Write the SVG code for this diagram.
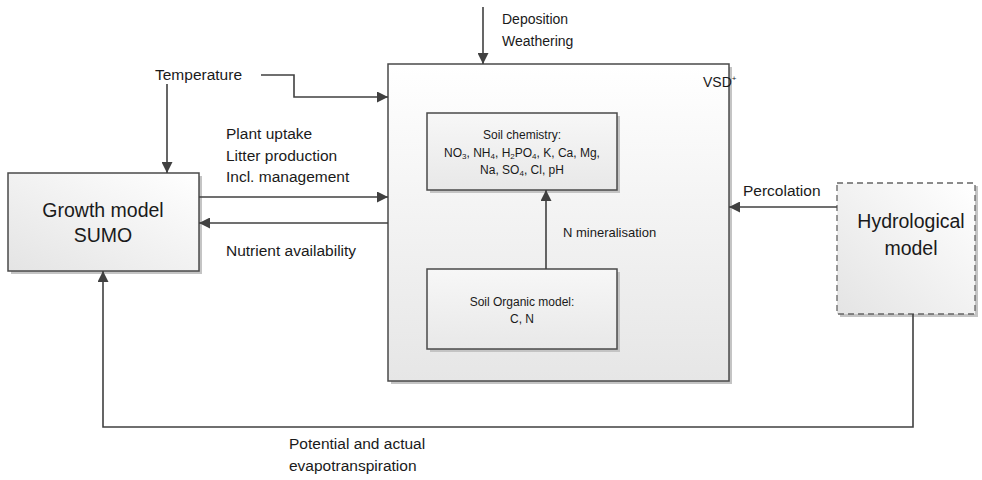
<svg xmlns="http://www.w3.org/2000/svg" width="982" height="480" viewBox="0 0 982 480">
<defs>
<linearGradient id="gBox" x1="0" y1="0" x2="0" y2="1">
<stop offset="0" stop-color="#ffffff"/>
<stop offset="1" stop-color="#e6e6e6"/>
</linearGradient>
<linearGradient id="gSumo" x1="1" y1="0" x2="0" y2="1">
<stop offset="0" stop-color="#ffffff"/>
<stop offset="1" stop-color="#e4e4e4"/>
</linearGradient>
<linearGradient id="gInner" x1="0" y1="0" x2="0" y2="1">
<stop offset="0" stop-color="#f7f7f7"/>
<stop offset="1" stop-color="#e8e8e8"/>
</linearGradient>
<marker id="arr" viewBox="0 0 10 10" refX="10" refY="5" markerWidth="11" markerHeight="11" markerUnits="userSpaceOnUse" orient="auto">
<path d="M0,0 L10,5 L0,10 Z" fill="#404040"/>
</marker>
</defs>
<style>
.box{stroke:#4a4a4a;stroke-width:1.5}
.shadow{fill:#c4c4c4}
.conn{fill:none;stroke:#404040;stroke-width:1.6}
text{font-family:"Liberation Sans",Arial,sans-serif;fill:#1a1a1a}
.lbl{font-size:15.5px}
.small{font-size:12px}
.big{font-size:19.5px}
</style>
<rect width="982" height="480" fill="#ffffff"/>

<g id="vsd">
<rect class="shadow" x="391" y="67" width="341" height="317"/>
<rect class="box" x="388" y="64" width="341" height="317" fill="url(#gBox)"/>
<text x="703" y="87" font-size="14">VSD<tspan font-size="8" dy="-6">+</tspan></text>
</g>

<g id="soil-chemistry">
<rect class="shadow" x="430" y="116" width="190" height="77"/>
<rect class="box" x="427" y="113" width="190" height="77" fill="url(#gInner)"/>
<text class="small" text-anchor="middle" x="522" y="139">Soil chemistry:</text>
<text class="small" text-anchor="middle" x="522" y="157">NO<tspan font-size="8" dy="2">3</tspan><tspan dy="-2">, NH</tspan><tspan font-size="8" dy="2">4</tspan><tspan dy="-2">, H</tspan><tspan font-size="8" dy="2">2</tspan><tspan dy="-2">PO</tspan><tspan font-size="8" dy="2">4</tspan><tspan dy="-2">, K, Ca, Mg,</tspan></text>
<text class="small" text-anchor="middle" x="522" y="174">Na, SO<tspan font-size="8" dy="2">4</tspan><tspan dy="-2">, Cl, pH</tspan></text>
</g>

<g id="soil-organic">
<rect class="shadow" x="430" y="272" width="190" height="80"/>
<rect class="box" x="427" y="269" width="190" height="80" fill="url(#gInner)"/>
<text class="small" text-anchor="middle" x="522" y="306">Soil Organic model:</text>
<text class="small" text-anchor="middle" x="522" y="323">C, N</text>
</g>

<g id="sumo">
<rect class="shadow" x="11" y="176" width="191" height="98"/>
<rect class="box" x="8" y="173" width="191" height="98" fill="url(#gSumo)"/>
<text class="big" text-anchor="middle" x="103" y="217">Growth model</text>
<text class="big" text-anchor="middle" x="103" y="242">SUMO</text>
</g>

<g id="hydrological">
<rect class="shadow" x="840" y="186" width="138" height="131"/>
<rect x="837" y="183" width="138" height="131" fill="url(#gSumo)" stroke="#666666" stroke-width="1.3" stroke-dasharray="6,4"/>
<text class="big" text-anchor="middle" x="911" y="228">Hydrological</text>
<text class="big" text-anchor="middle" x="911" y="255">model</text>
</g>

<g id="connectors">
<path class="conn" d="M483,7 L483,64" marker-end="url(#arr)"/>
<path class="conn" d="M261,75 L294,75 L294,97 L388,97" marker-end="url(#arr)"/>
<path class="conn" d="M167,84 L167,173" marker-end="url(#arr)"/>
<path class="conn" d="M199,197 L388,197" marker-end="url(#arr)"/>
<path class="conn" d="M388,223 L199,223" marker-end="url(#arr)"/>
<path class="conn" d="M837,207 L729,207" marker-end="url(#arr)"/>
<path class="conn" d="M546,269 L546,190" marker-end="url(#arr)"/>
<path class="conn" d="M913,314 L913,427 L103,427 L103,271" marker-end="url(#arr)"/>
</g>

<g id="labels">
<text font-size="14" x="502" y="24">Deposition</text>
<text font-size="14" x="502" y="46">Weathering</text>
<text class="lbl" x="155" y="80">Temperature</text>
<text class="lbl" x="226" y="139">Plant uptake</text>
<text class="lbl" x="226" y="161">Litter production</text>
<text class="lbl" x="226" y="182">Incl. management</text>
<text class="lbl" x="226" y="256">Nutrient availability</text>
<text class="lbl" x="743" y="196">Percolation</text>
<text font-size="13" x="563" y="237">N mineralisation</text>
<text class="lbl" x="289" y="449">Potential and actual</text>
<text class="lbl" x="289" y="471">evapotranspiration</text>
</g>
</svg>
